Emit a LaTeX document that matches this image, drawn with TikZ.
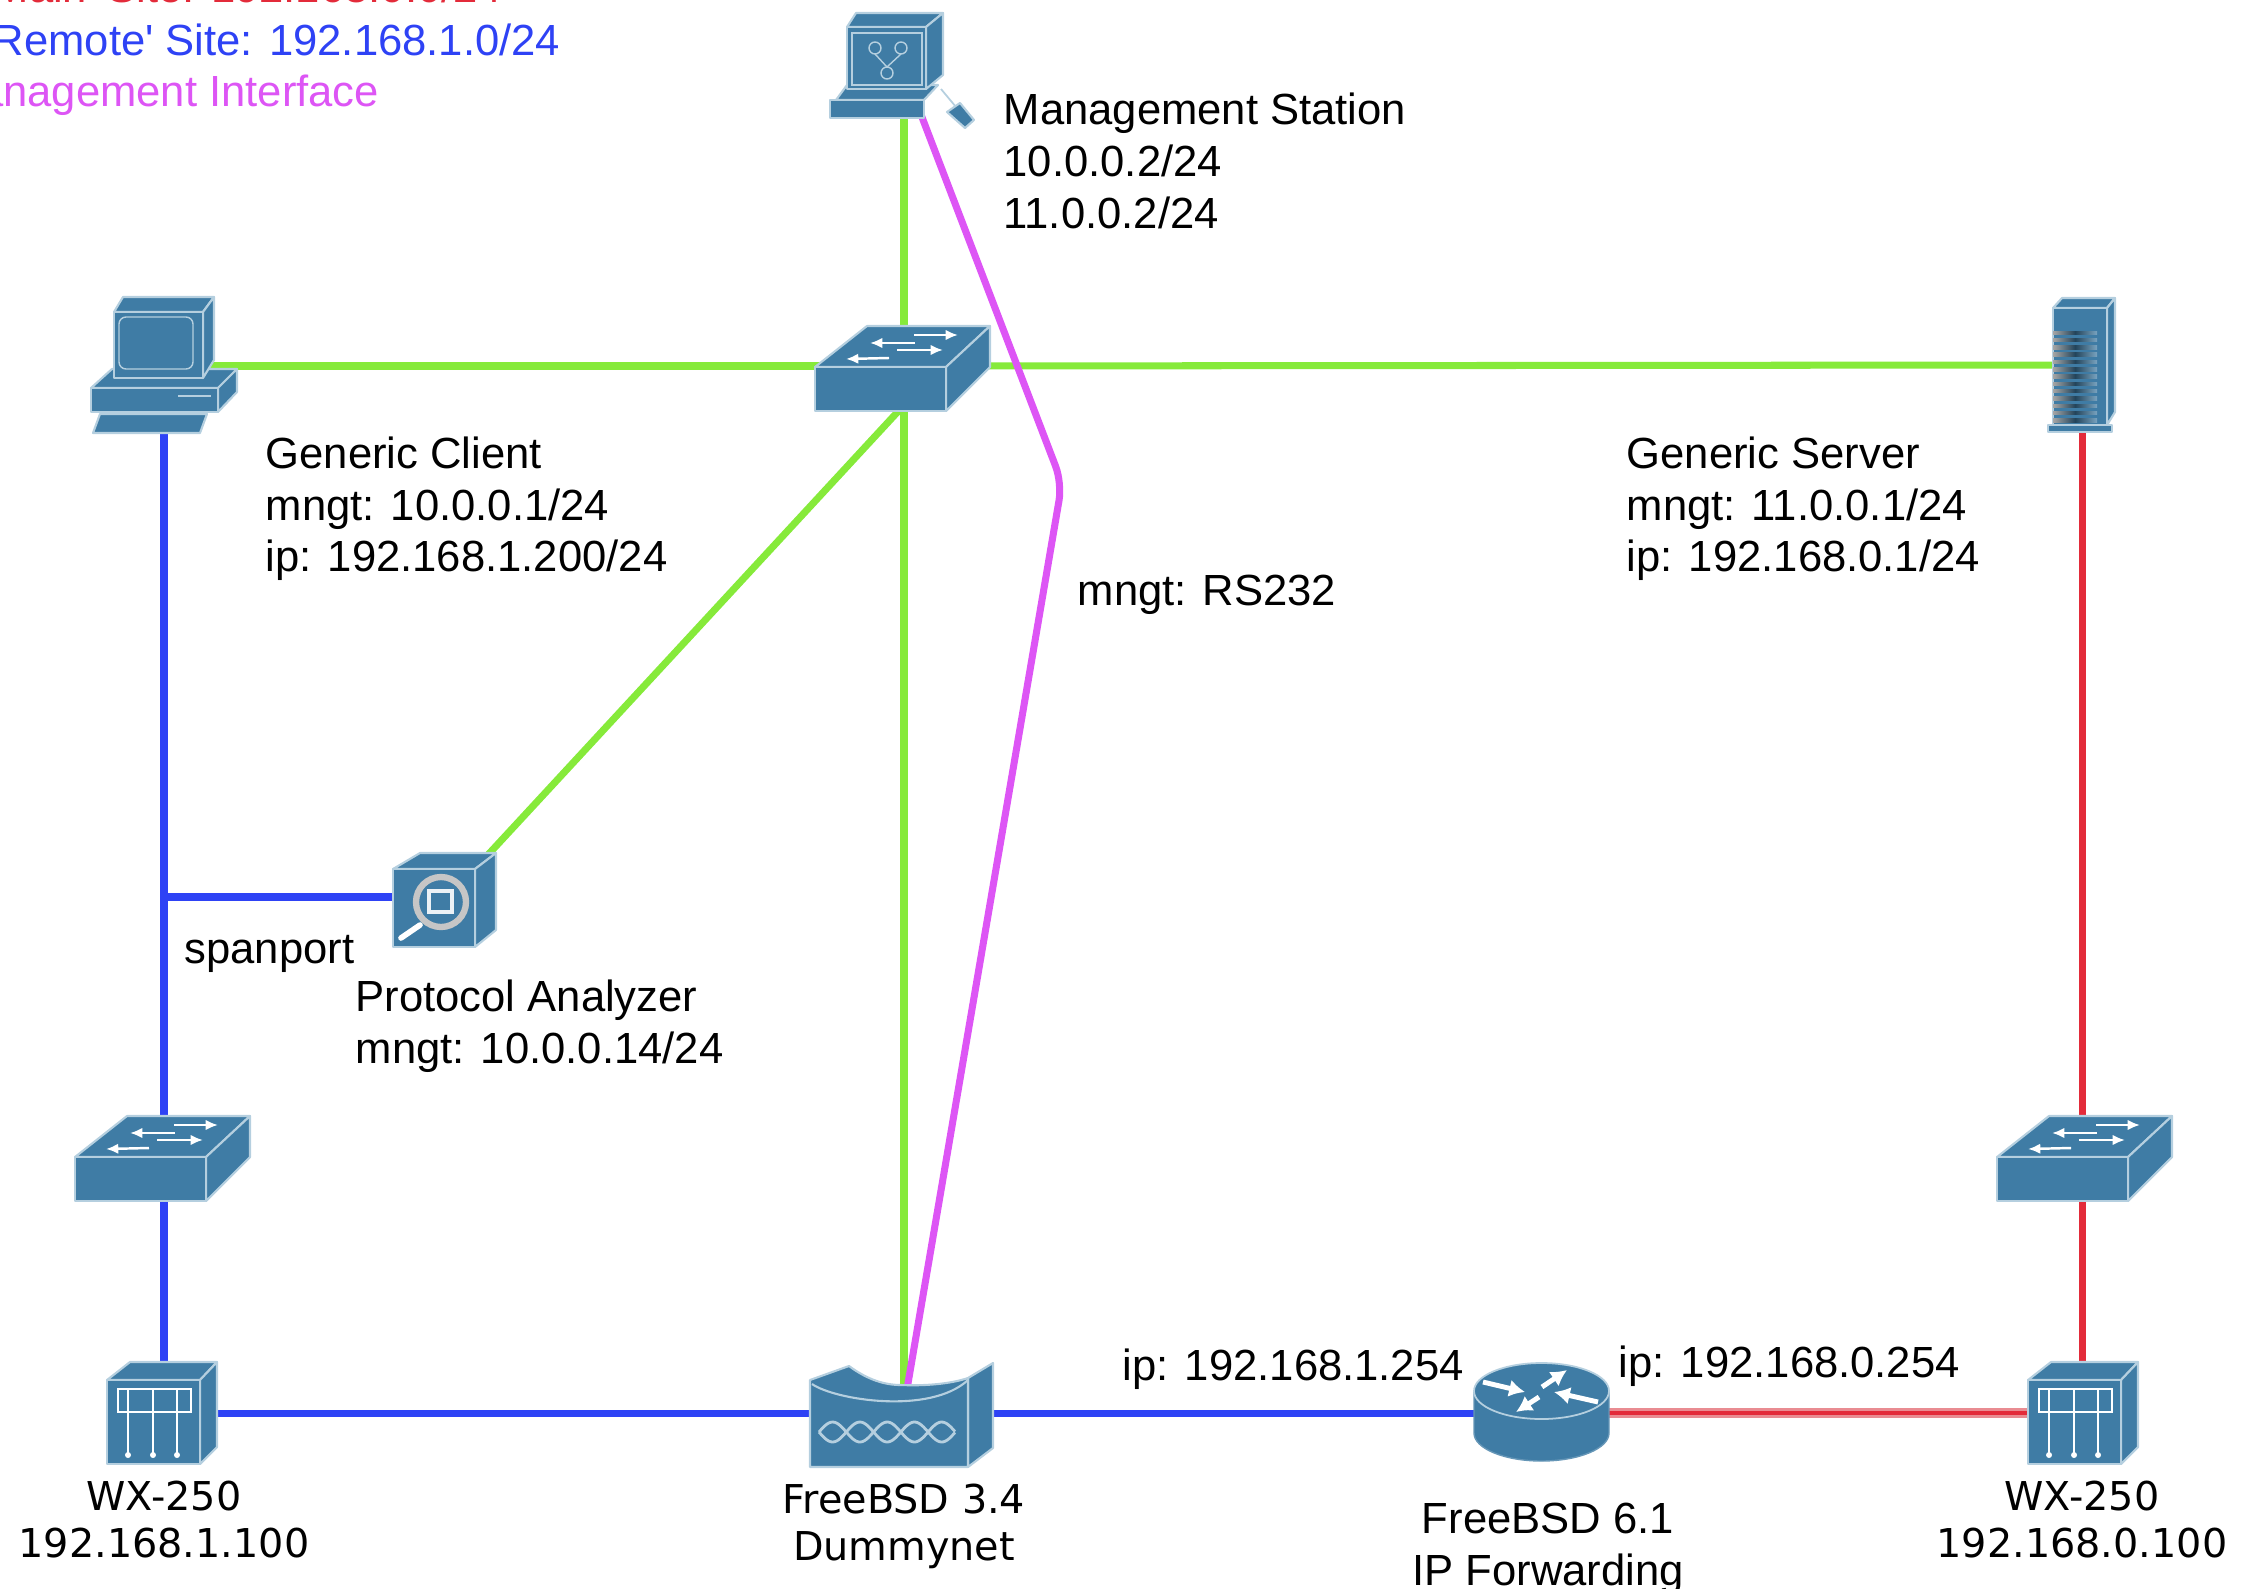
\documentclass[tikz,border=0pt]{standalone}
\usepackage{fontspec}
\setmainfont{Liberation Sans}
\newfontfamily\plainfont{Liberation Sans}
\newfontfamily\wxfont{DejaVu Sans}
\usetikzlibrary{arrows.meta}

\definecolor{iconblue}{HTML}{3F7CA5}
\definecolor{iconedge}{HTML}{B5CFDF}
\definecolor{linkgreen}{HTML}{86EA3A}
\definecolor{linkblue}{HTML}{2E42F5}
\definecolor{linkmag}{HTML}{DD55F5}
\definecolor{linkred}{HTML}{E32B3A}
\definecolor{linkpale}{HTML}{E98C92}

\tikzset{
    lbl/.style={inner sep=0pt, anchor=west, align=left, font=\fontsize{12.4}{14.7}\selectfont},
    wxlbl/.style={inner sep=0pt, anchor=base, align=center, font=\wxfont\fontsize{11.3}{13.5}\selectfont},
    legendlbl/.style={inner sep=0pt, anchor=base west, font=\plainfont\fontsize{12.4}{14.7}\selectfont},
    greenlink/.style={linkgreen, line width=2pt},
    bluelink/.style={linkblue, line width=2pt},
    redlink/.style={linkred, line width=2pt},
    maglink/.style={linkmag, line width=2pt, rounded corners=5pt},
    halolink/.style={draw=linkpale, double=linkred, line width=.9pt, double distance=1.2pt},
    body/.style={fill=iconblue, draw=iconedge, line width=.6pt, line join=round},
    glyph/.style={white, line width=.7pt, -{Latex[length=3.5pt,width=3pt]}},
    routerglyph/.style={white, line width=1.4pt, -{Latex[length=4.5pt,width=5pt]}},
    pics/switchicon/.style={code={
        \path[body] (0,0) -- (52,-41) -- (175,-41) -- (131,0) -- cycle;
        \path[body] (131,0) -- (175,-41) -- (175,0) -- (131,44) -- cycle;
        \path[body] (0,0) rectangle (131,44);
        \draw[glyph] (99,-32) -- (143,-32);
        \draw[glyph] (100,-24) -- (55,-24);
        \draw[glyph] (82,-17) -- (128,-17);
        \draw[glyph] (74,-9) -- (31,-8);
    }},
    pics/wxicon/.style={code={
        \path[body] (0,0) -- (23,-18) -- (110,-18) -- (93,0) -- cycle;
        \path[body] (93,0) -- (110,-18) -- (110,67) -- (93,84) -- cycle;
        \path[body] (0,0) rectangle (93,84);
        \draw[white, line width=.6pt] (11,9) rectangle (84,32);
        \draw[white, line width=.5pt] (21,9) -- (21,75);
        \draw[white, line width=.5pt] (46,9) -- (46,75);
        \draw[white, line width=.5pt] (70,9) -- (70,75);
        \fill[white] (21,75) circle (3);
        \fill[white] (46,75) circle (3);
        \fill[white] (70,75) circle (3);
    }},
}

\begin{document}
\begin{tikzpicture}[x=0.01cm, y=-0.01cm]
    \useasboundingbox (0,0) rectangle (2249,1588);

    \coordinate (station) at (904,100);
    \coordinate (stationrs) at (920,112);
    \coordinate (client) at (164,366);
    \coordinate (clientb) at (164,425);
    \coordinate (mainsw) at (904,366);
    \coordinate (mainswb) at (904,405);
    \coordinate (server) at (2082,365);
    \coordinate (bend) at (1062,483);
    \coordinate (span) at (164,897);
    \coordinate (analyzer) at (440,897);
    \coordinate (analyzert) at (485,858);
    \coordinate (leftsw) at (164,1175);
    \coordinate (rightsw) at (2082,1175);
    \coordinate (leftwx) at (164,1413);
    \coordinate (rightwx) at (2082,1413);
    \coordinate (dummy) at (904,1413);
    \coordinate (dummyrs) at (906,1395);
    \coordinate (router) at (1541,1413);

    % links
    \draw[greenlink] (client) -- (mainsw);
    \draw[greenlink] (mainsw) -- (server);
    \draw[greenlink] (station) -- (mainsw);
    \draw[greenlink] (mainsw) -- (dummy);
    \draw[greenlink] (mainswb) -- (analyzert);
    \draw[bluelink] (clientb) -- (leftsw);
    \draw[bluelink] (leftsw) -- (leftwx);
    \draw[bluelink] (span) -- (analyzer);
    \draw[bluelink] (leftwx) -- (dummy);
    \draw[bluelink] (dummy) -- (router);
    \draw[redlink] (server) -- (rightsw);
    \draw[redlink] (rightsw) -- (rightwx);
    \draw[halolink] (router) -- (rightwx);
    \draw[maglink] (stationrs) -- (bend) -- (dummyrs);

    % management station
    \path[body] (836,100) -- (847,85) -- (938,85) -- (924,100) -- cycle;
    \path[body] (847,27) -- (856,13) -- (943,13) -- (926,27) -- cycle;
    \path[body] (926,27) -- (943,13) -- (943,75) -- (926,89) -- cycle;
    \path[body] (847,27) rectangle (926,89);
    \draw[iconedge, line width=.4pt] (852,33) rectangle (922,85);
    \draw[iconedge, line width=.4pt] (875,48) circle (6) (901,48) circle (6) (887,73) circle (6);
    \draw[iconedge, line width=.4pt] (875,54) -- (887,67) -- (901,54);
    \path[body] (830,100) rectangle (924,118);
    \draw[iconedge, line width=.5pt] (941,89) -- (956,107);
    \path[body] (947,112) -- (960,103) -- (974,120) -- (965,128) -- cycle;

    % generic client
    \path[body] (91,388) -- (112,369) -- (237,369) -- (218,388) -- cycle;
    \path[body] (218,388) -- (237,369) -- (237,392) -- (218,412) -- cycle;
    \path[body] (91,388) rectangle (218,412);
    \draw[iconedge, line width=.8pt] (178,396) -- (211,396);
    \path[body] (114,312) -- (123,297) -- (214,297) -- (203,312) -- cycle;
    \path[body] (203,312) -- (214,297) -- (214,360) -- (203,378) -- cycle;
    \path[body] (114,312) rectangle (203,378);
    \draw[iconedge, line width=.4pt, rounded corners=2pt] (119,317) rectangle (193,369);
    \path[body] (100,414) -- (207,414) -- (200,433) -- (93,433) -- cycle;

    % generic server
    \path[body] (2053,308) -- (2062,298) -- (2115,298) -- (2107,308) -- cycle;
    \path[body] (2107,308) -- (2115,298) -- (2115,412) -- (2107,425) -- cycle;
    \path[body] (2053,308) rectangle (2107,428);
    \foreach \row in {0,...,12}
        \shade[left color=gray!70, right color=iconblue!70!white, middle color=black!45!iconblue]
            (2053,{331+\row*7.3}) rectangle (2097,{334.5+\row*7.3});
    \path[body] (2048,425) rectangle (2112,432);

    % switches
    \pic at (815,367) {switchicon};
    \pic at (75,1157) {switchicon};
    \pic at (1997,1157) {switchicon};

    % protocol analyzer
    \path[body] (393,869) -- (420,853) -- (496,853) -- (475,869) -- cycle;
    \path[body] (475,869) -- (496,853) -- (496,930) -- (475,947) -- cycle;
    \path[body] (393,869) rectangle (475,947);
    \draw[gray!45, line width=1.8pt] (441,902) circle (25);
    \draw[white!90!iconblue, line width=1.2pt] (429,891) rectangle (452,912);
    \draw[white, line width=1.6pt, line cap=round] (401,938) -- (420,925);

    % wx boxes
    \pic at (107,1380) {wxicon};
    \pic at (2028,1380) {wxicon};

    % dummynet
    \path[body] (968,1378) -- (993,1363) -- (993,1448) -- (968,1467) -- cycle;
    \path[body] (810,1380) -- (849,1366) .. controls (868,1380) and (885,1385) .. (901,1385)
        .. controls (925,1386) and (950,1384) .. (968,1378) -- (968,1467) -- (810,1467) -- cycle;
    \draw[iconedge, line width=.6pt] (812,1384) .. controls (835,1400) and (930,1415) .. (968,1380);
    \draw[iconedge, line width=.8pt, domain=819:955, samples=70] plot (\x,{1432+10*sin((\x-819)*6.6)});
    \draw[iconedge, line width=.8pt, domain=819:955, samples=70] plot (\x,{1432-10*sin((\x-819)*6.6)});

    % router
    \path[fill=iconblue, draw=iconblue!80!white] (1474,1391) -- (1474,1433)
        arc[start angle=180, end angle=0, x radius=67.5, y radius=28] -- (1609,1391) -- cycle;
    \path[fill=iconblue, draw=iconedge, line width=.5pt] (1541.5,1391) ellipse (67.5 and 28);
    \draw[routerglyph] (1483,1382) -- (1525,1392);
    \draw[routerglyph] (1542,1387) -- (1567,1370);
    \draw[routerglyph] (1598,1402) -- (1554,1392);
    \draw[routerglyph] (1539,1397) -- (1516,1412);

    % labels
    \node[legendlbl, text=linkred] (mainsite) at (-8,3) {Main' Site: 192.168.0.0/24};
    \node[legendlbl, text=linkblue] (remotesite) at (-8,56) {Remote' Site: 192.168.1.0/24};
    \node[legendlbl, text=linkmag] (mgmtif) at (-58,107) {Management Interface};
    \node[lbl] (stationlbl) at (1003,161) {Management Station\\10.0.0.2/24\\11.0.0.2/24};
    \node[lbl] (clientlbl) at (265,509) {Generic Client\\mngt: 10.0.0.1/24\\ip: 192.168.1.200/24};
    \node[lbl] (serverlbl) at (1626,509) {Generic Server\\mngt: 11.0.0.1/24\\ip: 192.168.0.1/24};
    \node[lbl] (rslbl) at (1077,595) {mngt: RS232};
    \node[lbl] (spanlbl) at (184,954) {spanport};
    \node[lbl] (analyzerlbl) at (355,1026) {Protocol Analyzer\\mngt: 10.0.0.14/24};
    \node[lbl] (ipbluelbl) at (1122,1369) {ip: 192.168.1.254};
    \node[lbl] (ipredlbl) at (1618,1366) {ip: 192.168.0.254};
    \node[inner sep=0pt, align=center, font=\fontsize{12.4}{14.7}\selectfont] (routerlbl) at (1548,1549) {FreeBSD 6.1\\IP Forwarding};
    \node[wxlbl] (leftwxlbl) at (164,1510) {WX-250};
    \node[wxlbl] (leftiplbl) at (164,1557) {192.168.1.100};
    \node[wxlbl] (rightwxlbl) at (2082,1510) {WX-250};
    \node[wxlbl] (rightiplbl) at (2082,1557) {192.168.0.100};
    \node[wxlbl] (dummylbl) at (904,1513) {FreeBSD 3.4};
    \node[wxlbl] (dummyname) at (904,1560) {Dummynet};
\end{tikzpicture}
\end{document}
